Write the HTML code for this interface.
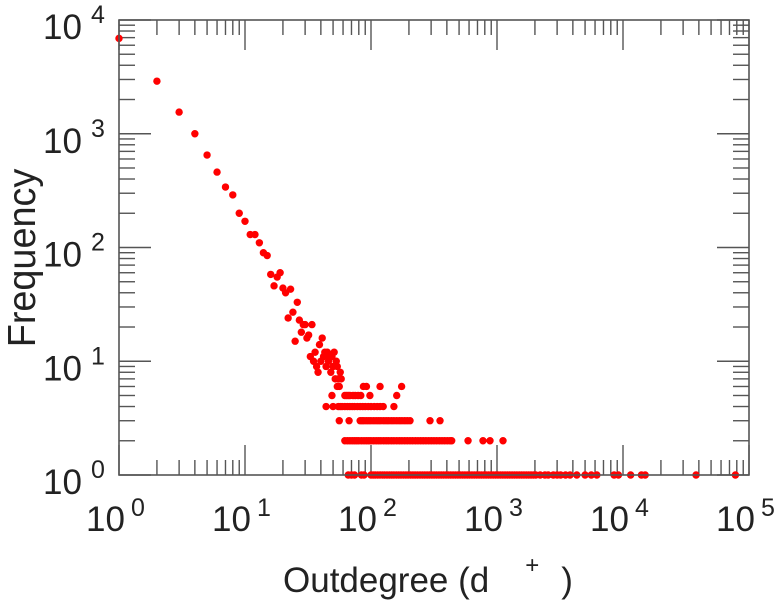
<!DOCTYPE html>
<html><head><meta charset="utf-8"><style>
html,body{margin:0;padding:0;background:#fff;}
svg{display:block;font-family:"Liberation Sans",sans-serif;}
</style></head><body>
<svg id="chart" width="778" height="600" viewBox="0 0 778 600" xmlns="http://www.w3.org/2000/svg">
<g id="ticks"></g>
<g id="points"></g>
<rect x="119" y="20" width="630" height="455" fill="none" stroke="#555" stroke-width="1.6"/>
<g id="labels" fill="#222"></g>
<text transform="translate(35,258) rotate(-90) scale(1.08,1.1)" text-anchor="middle" font-size="35" fill="#222">Frequency</text>
<text x="283" y="592" font-size="35" fill="#222">Outdegree (d<tspan dx="36" dy="-19" font-size="24">+</tspan><tspan dx="22" dy="19" font-size="35">)</tspan></text>
</svg>
<script>
const xDecades = [0,1,2,3,4,5];
const yDecades = [0,1,2,3,4];
const headDegrees = [1,2,3,4,5,6,7,8,9,10,11,12,13,14,15,16,17,18,19,20,21,22,23,24,25,26,27,28,29,30,31,32,33,34,35,36,37,38,39,40,41,42,43,44,45,46,47,48,49,50,51,52,53,54,55,57,58];
const headFreqs = [6900,2900,1550,1000,650,460,340,290,200,170,130,130,110,90,85,58,46,55,60,44,40,24,43,27,15,33,23,18,21,21,16,17,11,21,10,12,9,8,14,10,16,11,12,9,12,10,11,8,11,9,12,7,10,9,7,8,7];
const deg6 = [54,56,87,92,118,175];
const deg5 = [49,62,64,66,68,72,75,79,83,98,160];
const deg4 = [44,50,55,57,59,62,65,68,71,74,78,82,86,90,95,100,106,112,118,125,152];
const deg3 = [56,67,82,85,88,92,96,100,105,110,115,120,126,132,138,145,152,160,168,176,185,194,204,294,353];
const deg2 = [62,65,68,71,74,77,80,84,88,92,96,100,105,110,115,120,126,132,138,145,152,160,168,176,185,194,204,214,225,236,248,260,273,287,301,316,332,349,366,384,403,423,437,589,774,880,1116];
const deg1 = [66,70,74,84,88,100,104,108,113,118,123,128,134,140,146,152,159,166,173,181,189,197,206,215,224,234,245,256,267,279,291,304,317,331,346,361,377,394,411,429,448,468,489,510,533,556,581,606,633,661,690,721,752,786,820,856,894,934,975,1018,1063,1110,1159,1210,1263,1319,1377,1438,1502,1568,1637,1710,1785,1864,1946,2032,2200,2400,2550,2800,3000,3200,3500,3800,4300,5000,5600,6200,8500,9200,11500,14000,15000,38000,78000];
const rowFreqs = [6,5,4,3,2,1];

const NS="http://www.w3.org/2000/svg";
const X0=119, X1=749, Y0=475, Y1=20;
function xs(v){return X0+(Math.log10(v)-0)/5*(X1-X0);}
function ys(v){return Y0-(Math.log10(v)-0)/4*(Y0-Y1);}
function mk(tag,attrs,parent){const e=document.createElementNS(NS,tag);for(const k in attrs)e.setAttribute(k,attrs[k]);parent.appendChild(e);return e;}

const tg=document.getElementById('ticks');
xDecades.forEach(d=>{
  for(let m=1;m<=9;m++){
    if(d===5&&m>1)break;
    const v=m*Math.pow(10,d), x=xs(v), L=m===1?30:15;
    const t1=mk('line',{x1:x,y1:Y0,x2:x,y2:Y0-L,stroke:'#555','stroke-width':1.4},tg);
    
    
    const t2=mk('line',{x1:x,y1:Y1,x2:x,y2:Y1+L,stroke:'#555','stroke-width':1.4},tg);
    
    
  }
});
yDecades.forEach(d=>{
  for(let m=1;m<=9;m++){
    if(d===4&&m>1)break;
    const v=m*Math.pow(10,d), y=ys(v), L=m===1?32:16;
    const t1=mk('line',{x1:X0,y1:y,x2:X0+L,y2:y,stroke:'#555','stroke-width':1.4},tg);
    
    
    const t2=mk('line',{x1:X1,y1:y,x2:X1-L,y2:y,stroke:'#555','stroke-width':1.4},tg);
    
    
  }
});

const lg=document.getElementById('labels');
xDecades.forEach(d=>{
  const x=xs(Math.pow(10,d));
  const t=mk('text',{x:x-33,y:531,'font-size':35},lg);
  
  
  t.textContent='10';
  const s=mk('text',{x:x+12,y:516,'font-size':25},lg);
  
  
  s.textContent=String(d);
});
yDecades.forEach(d=>{
  const y=ys(Math.pow(10,d));
  const t=mk('text',{x:43,y:y+19,'font-size':35},lg);
  
  
  t.textContent='10';
  const s=mk('text',{x:91,y:y+3,'font-size':25},lg);
  
  
  s.textContent=String(d);
});

const pg=document.getElementById('points');
function dot(d,f){
  const c=mk('circle',{cx:xs(d),cy:ys(f),r:3.7,fill:'#ff0000'},pg);
  
  
}
headDegrees.forEach((d,i)=>dot(d,headFreqs[i]));
[deg6,deg5,deg4,deg3,deg2,deg1].forEach((arr,i)=>arr.forEach(d=>dot(d,rowFreqs[i])));
</script>
</body></html>
